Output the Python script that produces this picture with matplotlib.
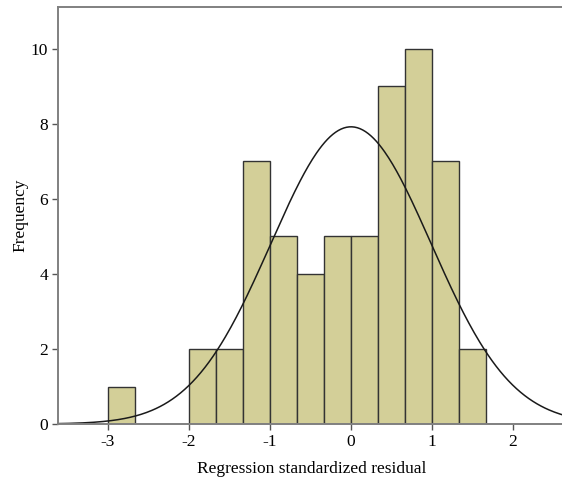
import numpy as np
import matplotlib
matplotlib.use("Agg")
import matplotlib.pyplot as plt

plt.rcParams['font.family'] = ['Liberation Serif', 'DejaVu Serif']
plt.rcParams['axes.unicode_minus'] = False

# histogram bins (width 1/3) and counts
bin_edges = [-3, -8/3, -7/3, -2, -5/3, -4/3, -1, -2/3, -1/3, 0, 1/3, 2/3, 1, 4/3, 5/3]
counts = [1, 0, 0, 2, 2, 7, 5, 4, 5, 5, 9, 10, 7, 2]
mean = 0.0
std_dev = 0.99
n_obs = sum(counts)
bin_width = 1/3

fig = plt.figure(figsize=(5.62, 4.82), dpi=100)
ax = fig.add_axes([58/562, 58/482, (566-58)/562, 417/482])

lefts = bin_edges[:-1]
for left, c in zip(lefts, counts):
    if c > 0:
        ax.bar(left, c, width=bin_width, align='edge', color='#d3cf98',
               edgecolor='#333333', linewidth=1.0)

xs = np.linspace(-3.7, 3.0, 400)
ys = n_obs * bin_width / (std_dev * np.sqrt(2 * np.pi)) * np.exp(-0.5 * ((xs - mean) / std_dev) ** 2)
ax.plot(xs, ys, color='#1a1a1a', linewidth=1.1)

ax.set_xlim(-3.617, (566 - 351) / 81)
ax.set_ylim(0, 11.12)
ax.set_xticks([-3, -2, -1, 0, 1, 2])
ax.set_yticks([0, 2, 4, 6, 8, 10])
ax.tick_params(direction='out', length=4, width=1, color='#555555',
               labelsize=12.5, labelcolor='black', pad=3)
for s in ax.spines.values():
    s.set_color('#808080')
    s.set_linewidth(1.4)

ax.set_xlabel("Regression standardized residual", fontsize=12.5, labelpad=8)
ax.set_ylabel("Frequency", fontsize=12.5, labelpad=2)

fig.savefig("out.png", dpi=100)
